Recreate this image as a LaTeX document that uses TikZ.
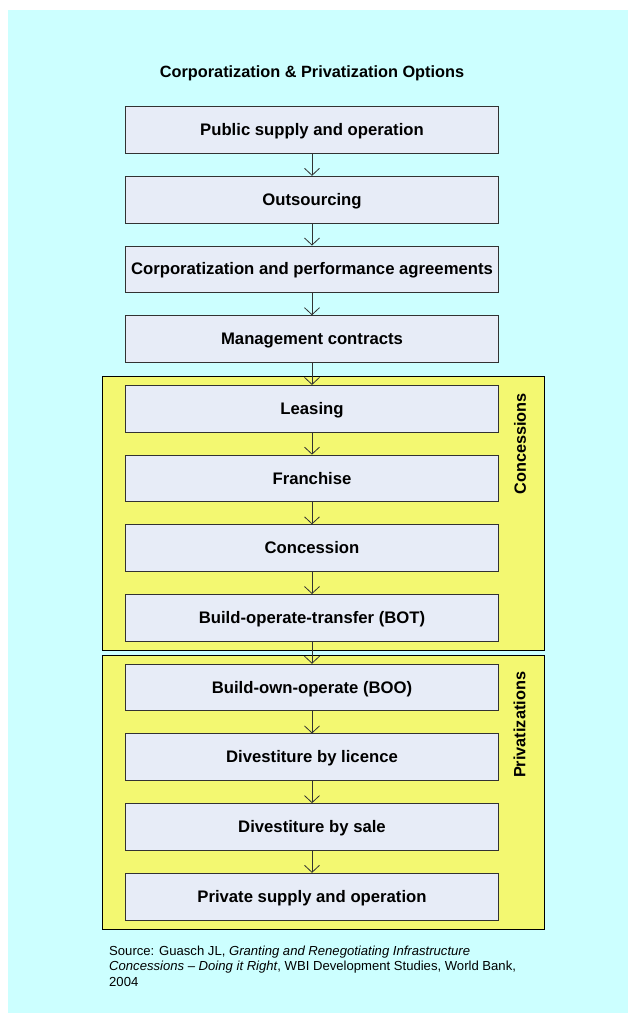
\documentclass[tikz,border=0pt]{standalone}
\usepackage{fontspec}
\setmainfont{Liberation Sans}
\usetikzlibrary{arrows.meta}
\definecolor{Bg}{RGB}{204,255,255}
\definecolor{Y}{RGB}{243,248,113}
\definecolor{L}{RGB}{231,236,247}
\definecolor{E}{RGB}{50,50,50}

\begin{document}
\begin{tikzpicture}[x=1pt,y=-1pt,
  optbox/.style={draw=E, line width=1pt, fill=L, minimum width=372.6pt,
    minimum height=46.7pt, inner sep=0pt, text height=14pt, text depth=3pt,
    font=\fontsize{16.7}{19}\selectfont\bfseries},
  groupbox/.style={draw=black, line width=1pt, fill=Y},
  grouplabel/.style={rotate=90, anchor=east, inner sep=0pt,
    font=\fontsize{16.3}{19}\selectfont\bfseries},
  link/.style={draw=E, line width=0.8pt, -{Straight Barb[length=7pt,width=15pt]}}]
  \useasboundingbox (0,0) rectangle (628,1013);
  \fill[Bg] (8,10) rectangle (628,1013);
  \node[anchor=base, font=\fontsize{16.3}{19}\selectfont\bfseries] (title) at (312,77.3)
    {Corporatization \& Privatization Options};
  % the two yellow groups
  \draw[groupbox] (102.5,376.3) rectangle (544.5,650.7);
  \draw[groupbox] (102.5,655) rectangle (544.5,929.7);
  \node[grouplabel] (conclabel) at (520,393) {Concessions};
  \node[grouplabel] (privlabel) at (519.5,671.7) {Privatizations};
  % the options, top to bottom
  \node[optbox] (pub) at (312,130) {Public supply and operation};
  \node[optbox] (out) at (312,199.7) {Outsourcing};
  \node[optbox] (corp) at (312,269.4) {Corporatization and performance agreements};
  \node[optbox] (mgmt) at (312,339.1) {Management contracts};
  \node[optbox] (lease) at (312,408.8) {Leasing};
  \node[optbox] (fran) at (312,478.5) {Franchise};
  \node[optbox] (conc) at (312,548.2) {Concession};
  \node[optbox] (bot) at (312,617.9) {Build-operate-transfer (BOT)};
  \node[optbox] (boo) at (312,687.6) {Build-own-operate (BOO)};
  \node[optbox] (lic) at (312,757.3) {Divestiture by licence};
  \node[optbox] (sale) at (312,827) {Divestiture by sale};
  \node[optbox] (priv) at (312,896.7) {Private supply and operation};
  \foreach \a/\b in {pub/out, out/corp, corp/mgmt, mgmt/lease, lease/fran,
      fran/conc, conc/bot, bot/boo, boo/lic, lic/sale, sale/priv}
    \draw[link] (\a.south) -- (\b.north);
  \node[anchor=north west, inner sep=0pt, align=left,
    font=\fontsize{13.1}{15.5}\selectfont] (source) at (109,945.5)
    {Source: Guasch JL, \textit{Granting and Renegotiating Infrastructure}\\
     \textit{Concessions -- Doing it Right}, WBI Development Studies, World Bank,\\
     2004};
\end{tikzpicture}
\end{document}
